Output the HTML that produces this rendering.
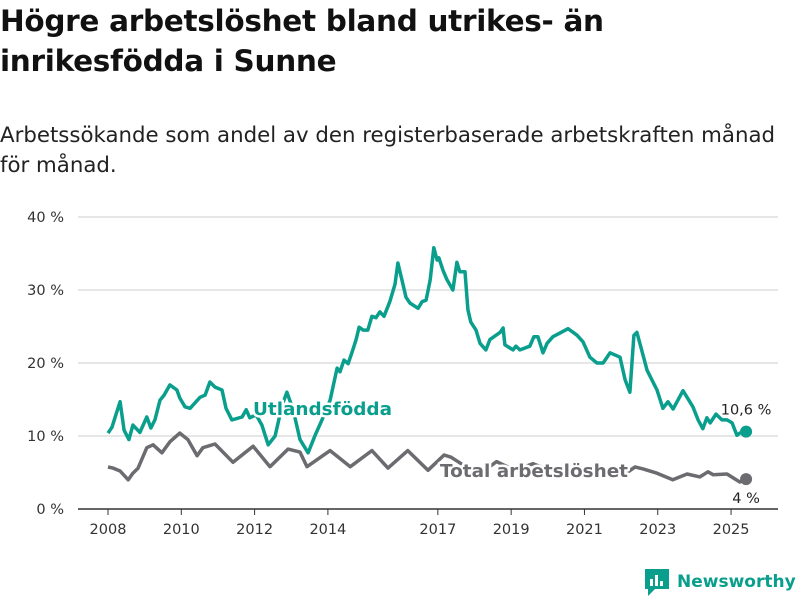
<!DOCTYPE html>
<html><head><meta charset="utf-8"><style>
body{margin:0;background:#fff;font-family:"DejaVu Sans","Liberation Sans",sans-serif;}
#wrap{position:relative;width:800px;height:600px;overflow:hidden;}
h1{position:absolute;left:0;top:1px;margin:0;font-size:29.5px;line-height:40px;font-weight:bold;color:#111;width:800px;letter-spacing:-0.3px;white-space:nowrap;}
.sub{position:absolute;left:0;top:121px;margin:0;font-size:21.3px;line-height:30px;color:#222;width:800px;white-space:nowrap;}
</style></head><body>
<div id="wrap">
<h1>Högre arbetslöshet bland utrikes- än<br>inrikesfödda i Sunne</h1>
<p class="sub">Arbetssökande som andel av den registerbaserade arbetskraften månad<br>för månad.</p>
<svg id="chart" width="800" height="600" style="position:absolute;left:0;top:0"></svg>
<div style="position:absolute;left:645px;top:569px;height:28px;">
<svg width="26" height="28" style="position:absolute;left:0;top:0"><path d="M0 0H24V20H10L3 27V20H0Z" fill="#0a9e8d"/><rect x="5" y="10" width="3" height="7" fill="#fff"/><rect x="10" y="6" width="3" height="11" fill="#fff"/><rect x="15" y="12" width="3" height="5" fill="#fff"/></svg>
<span style="position:absolute;left:32px;top:0;font-size:17px;font-weight:bold;color:#0a9e8d;line-height:26px;white-space:nowrap;">Newsworthy</span>
</div>
</div>
<script>
const yTicks=[0,10,20,30,40];
const xTicks=[2008,2010,2012,2014,2017,2019,2021,2023,2025];
const utlYears=[2008.00,2008.11,2008.22,2008.33,2008.44,2008.57,2008.68,2008.87,2009.06,2009.17,2009.28,2009.42,2009.53,2009.69,2009.88,2009.96,2010.10,2010.24,2010.51,2010.65,2010.78,2010.92,2011.11,2011.22,2011.38,2011.66,2011.77,2011.87,2012.04,2012.20,2012.37,2012.56,2012.75,2012.88,2013.05,2013.24,2013.46,2013.65,2013.84,2014.06,2014.25,2014.33,2014.44,2014.55,2014.66,2014.77,2014.85,2014.96,2015.09,2015.20,2015.31,2015.42,2015.53,2015.69,2015.83,2015.91,2016.02,2016.13,2016.24,2016.46,2016.57,2016.68,2016.79,2016.89,2016.98,2017.03,2017.14,2017.25,2017.41,2017.52,2017.60,2017.74,2017.82,2017.90,2018.04,2018.15,2018.31,2018.42,2018.70,2018.78,2018.83,2019.05,2019.13,2019.24,2019.51,2019.62,2019.73,2019.87,2019.98,2020.14,2020.33,2020.55,2020.69,2020.80,2020.96,2021.15,2021.34,2021.51,2021.70,2021.97,2022.11,2022.24,2022.35,2022.43,2022.71,2022.98,2023.14,2023.28,2023.42,2023.69,2023.96,2024.10,2024.23,2024.34,2024.43,2024.59,2024.75,2024.89,2025.03,2025.16,2025.24,2025.41];
const utlValues=[10.4,11.2,13.0,14.7,10.8,9.5,11.5,10.5,12.6,11.1,12.2,14.9,15.6,17.0,16.3,15.2,14.0,13.8,15.3,15.6,17.4,16.7,16.3,13.8,12.2,12.6,13.6,12.5,12.9,11.5,8.8,10.0,14.2,16.0,13.6,9.5,7.7,10.1,12.2,14.9,19.3,18.8,20.4,19.9,21.5,23.2,24.9,24.5,24.5,26.4,26.2,27.0,26.4,28.4,30.8,33.7,31.4,29.0,28.2,27.5,28.4,28.6,31.4,35.8,34.1,34.4,32.7,31.4,30.0,33.8,32.5,32.5,27.3,25.6,24.5,22.7,21.8,23.2,24.2,24.8,22.5,21.8,22.3,21.8,22.3,23.6,23.6,21.4,22.7,23.6,24.1,24.7,24.2,23.8,22.9,20.8,20.0,20.0,21.4,20.8,17.7,16.0,23.8,24.2,19.0,16.3,13.8,14.7,13.7,16.2,14.0,12.2,11.0,12.5,11.8,13.0,12.2,12.2,11.8,10.1,10.4,10.6];
const totYears=[2008.00,2008.14,2008.33,2008.55,2008.68,2008.82,2009.06,2009.23,2009.47,2009.69,2009.96,2010.18,2010.43,2010.59,2010.92,2011.41,2011.96,2012.42,2012.91,2013.24,2013.43,2014.06,2014.61,2015.20,2015.64,2016.18,2016.73,2017.17,2017.36,2017.7,2018.2,2018.6,2019.1,2019.6,2020.2,2020.6,2021.2,2021.7,2022.1,2022.38,2022.60,2022.98,2023.41,2023.80,2024.15,2024.37,2024.51,2024.89,2025.24,2025.41];
const totValues=[5.75,5.6,5.2,4.0,4.9,5.6,8.4,8.8,7.7,9.2,10.4,9.5,7.3,8.4,8.9,6.4,8.6,5.8,8.2,7.8,5.8,8.0,5.8,8.0,5.6,8.0,5.3,7.4,7.1,6.0,5.0,6.5,5.3,6.2,5.0,6.0,5.0,5.6,4.8,5.75,5.5,4.9,4.0,4.8,4.4,5.1,4.7,4.8,3.7,4.1];
const utlLabel="10,6 %", totLabel="4 %";
const svg=document.getElementById('chart');const NS='http://www.w3.org/2000/svg';
const X=y=>108+(y-2008)*36.65;
const Y=v=>509-v*7.3;
function mk(t,a){const e=document.createElementNS(NS,t);for(const k in a)e.setAttribute(k,a[k]);svg.appendChild(e);return e;}
yTicks.forEach(v=>{
 const l=mk('line',{x1:78,x2:778,y1:Y(v),y2:Y(v),stroke:v===0?'#333':'#ddd','stroke-width':1.5});
 
 
 const t=mk('text',{x:64,y:Y(v)+5,'text-anchor':'end','font-size':14.5,fill:'#333'});t.textContent=v+' %';
 
 
});
xTicks.forEach(yr=>{
 const l=mk('line',{x1:X(yr),x2:X(yr),y1:509,y2:515,stroke:'#333','stroke-width':1});
 
 
 const t=mk('text',{x:X(yr),y:534,'text-anchor':'middle','font-size':14.5,fill:'#333'});t.textContent=yr;
 
 
});
function path(ys,vs){return ys.map((y,i)=>(i?'L':'M')+X(y).toFixed(1)+' '+Y(vs[i]).toFixed(1)).join(' ');}
const tp=mk('path',{d:path(totYears,totValues),fill:'none',stroke:'#6b6b70','stroke-width':3.5,'stroke-linejoin':'round'});


const up=mk('path',{d:path(utlYears,utlValues),fill:'none',stroke:'#0a9e8d','stroke-width':3.5,'stroke-linejoin':'round'});


const lu=utlYears.length-1,lt=totYears.length-1;
const d1=mk('circle',{cx:X(utlYears[lu]),cy:Y(utlValues[lu]),r:6,fill:'#0a9e8d'});


const d2=mk('circle',{cx:X(totYears[lt]),cy:Y(totValues[lt]),r:6,fill:'#6b6b70'});


const e1=mk('text',{x:X(utlYears[lu]),y:Y(utlValues[lu])-17,'text-anchor':'middle','font-size':14.5,fill:'#222'});e1.textContent=utlLabel;


const e2=mk('text',{x:X(totYears[lt]),y:Y(totValues[lt])+24,'text-anchor':'middle','font-size':14.5,fill:'#222'});e2.textContent=totLabel;


const s1=mk('text',{x:253,y:415,'font-size':18,'font-weight':'bold',fill:'#0a9e8d',stroke:'#fff','stroke-width':5,'paint-order':'stroke','stroke-linejoin':'round',textLength:139,lengthAdjust:'spacingAndGlyphs'});s1.textContent='Utlandsfödda';


const s2=mk('text',{x:440,y:477,'font-size':18,'font-weight':'bold',fill:'#6b6b70',stroke:'#fff','stroke-width':5,'paint-order':'stroke','stroke-linejoin':'round',textLength:188,lengthAdjust:'spacingAndGlyphs'});s2.textContent='Total arbetslöshet';


</script>
</body></html>
